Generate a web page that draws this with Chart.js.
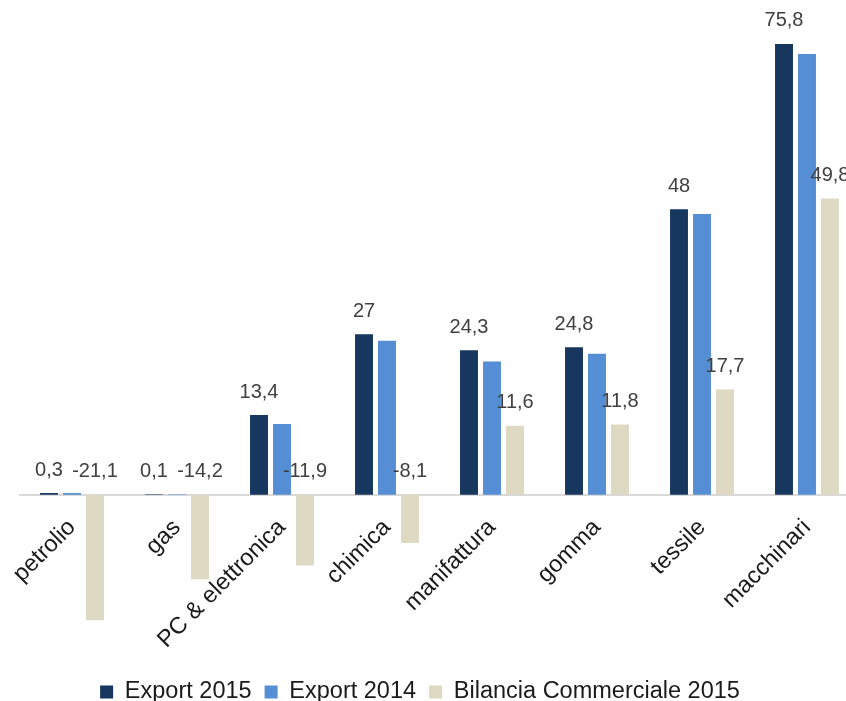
<!DOCTYPE html>
<html>
<head>
<meta charset="utf-8">
<script src="https://cdn.jsdelivr.net/npm/chart.js@4.4.0/dist/chart.umd.min.js"></script>
<style>
  html, body { margin: 0; padding: 0; background: #fff; overflow: hidden; }
  #wrap { position: absolute; left: -40px; top: 0; width: 903px; height: 701px; }
</style>
</head>
<body>
<div id="wrap"><canvas id="graficoExport" width="903" height="701"></canvas></div>
<script>
// Export per settore (mld)
const settori = ['petrolio', 'gas', 'PC & elettronica', 'chimica', 'manifattura', 'gomma', 'tessile', 'macchinari'];
const export2015 = [0.3, 0.1, 13.4, 27, 24.3, 24.8, 48, 75.8];
const export2014 = [0.3, 0.1, 11.9, 25.9, 22.4, 23.7, 47.2, 74.1];
const bilancia2015 = [-21.1, -14.2, -11.9, -8.1, 11.6, 11.8, 17.7, 49.8];

// etichette dei valori sopra le barre
const etichette = {
  id: 'etichette',
  afterDatasetsDraw(chart) {
    const ctx = chart.ctx;
    const zeroY = chart.scales.y.getPixelForValue(0);
    ctx.save();
    ctx.font = '20px "Liberation Sans", Arial, sans-serif';
    ctx.fillStyle = '#404040';
    ctx.textAlign = 'center';
    ctx.textBaseline = 'middle';
    chart.data.datasets.forEach((ds, i) => {
      if (!ds.mostraValori) return;
      chart.getDatasetMeta(i).data.forEach((bar, j) => {
        const v = ds.data[j];
        const top = v >= 0 ? bar.y : zeroY;
        ctx.fillText(String(v).replace('.', ','), bar.x, top - 23);
      });
    });
    ctx.restore();
  }
};

const dataExport = {
  labels: settori,
  datasets: [{
    label: 'Export 2015',
    backgroundColor: '#17375e',
    data: export2015,
    mostraValori: true,
  }, {
    label: 'Export 2014',
    backgroundColor: '#558ed5',
    data: export2014,
    mostraValori: false,
  }, {
    label: 'Bilancia Commerciale 2015',
    backgroundColor: '#ddd9c3',
    data: bilancia2015,
    mostraValori: true,
  }]
};

const configExport = {
  type: 'bar',
  data: dataExport,
  options: {
    responsive: false,
    animation: false,
    devicePixelRatio: 1,
    categoryPercentage: 0.657,
    barPercentage: 0.78,
    layout: {
      padding: { left: 20.5, right: 3.5, top: 19, bottom: -12.75 }
    },
    plugins: {
      legend: {
        position: 'bottom',
        labels: {
          boxWidth: 13,
          boxHeight: 13,
          padding: 13,
          color: '#1a1a1a',
          font: { family: '"Liberation Sans", Arial, sans-serif', size: 23.5 }
        }
      },
      tooltip: { enabled: false }
    },
    scales: {
      x: {
        position: { y: 0 },
        grid: { display: false },
        border: { color: '#d9d9d9', width: 2 },
        ticks: {
          minRotation: 45,
          maxRotation: 45,
          padding: 11,
          color: '#1a1a1a',
          font: { family: '"Liberation Sans", Arial, sans-serif', size: 23.5 }
        }
      },
      y: {
        min: -29,
        max: 80,
        grid: { display: false },
        border: { display: false },
        ticks: { display: false },
        // asse nascosto, serve solo a spostare l'area del grafico
        afterFit(scale) { scale.width = 39; }
      }
    }
  },
  plugins: [etichette]
};

const graficoExport = new Chart(document.getElementById('graficoExport'), configExport);
</script>
</body>
</html>
